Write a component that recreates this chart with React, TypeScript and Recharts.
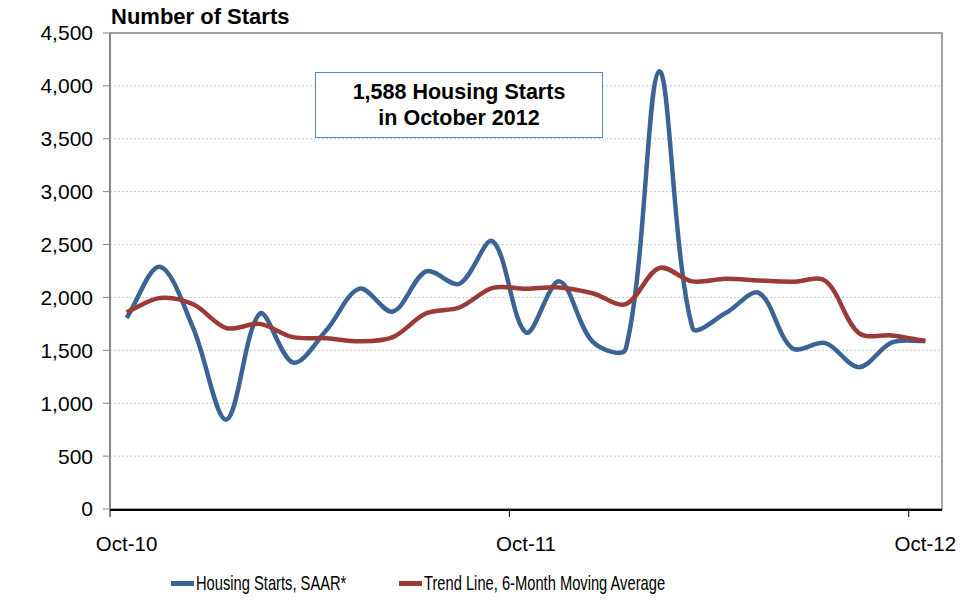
import {
  CartesianGrid,
  Legend,
  Line,
  LineChart,
  ReferenceArea,
  XAxis,
  YAxis,
} from "recharts";

const months = [
  "Oct-10", "Nov-10", "Dec-10", "Jan-11", "Feb-11", "Mar-11", "Apr-11", "May-11", "Jun-11",
  "Jul-11", "Aug-11", "Sep-11", "Oct-11", "Nov-11", "Dec-11", "Jan-12", "Feb-12", "Mar-12",
  "Apr-12", "May-12", "Jun-12", "Jul-12", "Aug-12", "Sep-12", "Oct-12",
];

const housingStarts = [
  1805, 2290, 1710, 845, 1846, 1385, 1690, 2083, 1867, 2246, 2130, 2530, 1669, 2152, 1583,
  1515, 4138, 1715, 1852, 2042, 1520, 1568, 1341, 1575, 1588,
];

const trendLine = [
  1860, 1995, 1935, 1710, 1750, 1625, 1615, 1585, 1625, 1850, 1905, 2090, 2082, 2095, 2040,
  1937, 2278, 2152, 2177, 2160, 2148, 2155, 1663, 1641, 1588,
];

const yTicks = [0, 500, 1000, 1500, 2000, 2500, 3000, 3500, 4000, 4500];
const labelTicks = [0, 12, 24];
const markTicks = [-0.5, 11.5, 23.5];

const data = months.map((month, idx) => ({
  idx,
  month,
  starts: housingStarts[idx],
  trend: trendLine[idx],
}));

const BLUE = "#3b6496";
const RED = "#9c3a37";
const FONT = "'Liberation Sans', Arial, sans-serif";

// Excel-like smoothed line: bezier through every point, tangent split by chord length
const excelSmooth = (context: any) => {
  let pts: number[][] = [];
  return {
    areaStart() {},
    areaEnd() {},
    lineStart() {
      pts = [];
    },
    point(x: number, y: number) {
      pts.push([+x, +y]);
    },
    lineEnd() {
      const n = pts.length;
      if (!n) return;
      const dist = (a: number[], b: number[]) => Math.hypot(b[0] - a[0], b[1] - a[1]) || 1e-6;
      const ctrl = pts.map((p, i) => {
        const prev = pts[Math.max(i - 1, 0)];
        const next = pts[Math.min(i + 1, n - 1)];
        const dp = i > 0 ? dist(prev, p) : 0;
        const dn = i < n - 1 ? dist(p, next) : 0;
        const tot = dp + dn || 1;
        const tx = next[0] - prev[0];
        const ty = next[1] - prev[1];
        const fin = dp / tot / 3;
        const fout = dn / tot / 3;
        return {
          inX: p[0] - tx * fin,
          inY: p[1] - ty * fin,
          outX: p[0] + tx * fout,
          outY: p[1] + ty * fout,
        };
      });
      context.moveTo(pts[0][0], pts[0][1]);
      for (let i = 0; i < n - 1; i++) {
        context.bezierCurveTo(
          ctrl[i].outX,
          ctrl[i].outY,
          ctrl[i + 1].inX,
          ctrl[i + 1].inY,
          pts[i + 1][0],
          pts[i + 1][1]
        );
      }
    },
  };
};

function LegendContent({ payload }: any) {
  return (
    <div style={{ display: "flex", alignItems: "center", fontFamily: FONT, fontSize: 21 }}>
      {(payload || []).map((p: any, i: number) => (
        <div
          key={p.value}
          style={{ display: "flex", alignItems: "center", width: i === 0 ? 228 : 300, flexShrink: 0 }}
        >
          <span
            style={{
              display: "inline-block",
              flexShrink: 0,
              width: 23,
              height: 5,
              background: p.color,
              marginRight: 2,
            }}
          />
          <span
            style={{
              display: "inline-block",
              color: "#000",
              whiteSpace: "nowrap",
              transform: "scaleX(0.7)",
              transformOrigin: "left center",
            }}
          >
            {p.value}
          </span>
        </div>
      ))}
    </div>
  );
}

export default function App() {
  return (
    <div style={{ position: "absolute", left: 0, top: 0, width: 974, height: 601, background: "#fff" }}>
      <div
        style={{
          position: "absolute",
          left: 111,
          top: 6,
          fontFamily: FONT,
          fontWeight: "bold",
          fontSize: 22,
          lineHeight: "21px",
          color: "#000",
        }}
      >
        Number of Starts
      </div>
      <LineChart
        width={974}
        height={601}
        data={data}
        margin={{ top: 33, right: 32, left: 10, bottom: 90 }}
      >
        <CartesianGrid vertical={false} stroke="#c8c8c8" strokeDasharray="2 2" />
        <ReferenceArea
          x1={-0.5}
          x2={24.5}
          y1={0}
          y2={4500}
          fill="none"
          stroke="#868686"
          strokeWidth={1.5}
        />
        <XAxis
          dataKey="idx"
          type="number"
          domain={[-0.5, 24.5]}
          ticks={labelTicks}
          tickFormatter={(v) => months[v]}
          height={1}
          axisLine={false}
          tickLine={false}
          tickSize={0}
          tickMargin={27}
          tick={{ fill: "#000", fontSize: 20.5, fontFamily: FONT }}
        />
        <XAxis
          xAxisId="marks"
          dataKey="idx"
          type="number"
          domain={[-0.5, 24.5]}
          ticks={markTicks}
          tickFormatter={() => ""}
          height={1}
          tickSize={7}
          stroke="#000"
          axisLine={{ stroke: "#000", strokeWidth: 2 }}
          tickLine={{ stroke: "#000", strokeWidth: 1 }}
        />
        <YAxis
          width={100}
          domain={[0, 4500]}
          ticks={yTicks}
          tickFormatter={(v) => v.toLocaleString("en-US")}
          tick={{ fill: "#000", fontSize: 21, fontFamily: FONT }}
          axisLine={{ stroke: "#868686", strokeWidth: 2 }}
          tickLine={{ stroke: "#868686" }}
          tickSize={7}
          tickMargin={10}
        />
        <Legend
          verticalAlign="middle"
          align="center"
          layout="horizontal"
          wrapperStyle={{ left: 171, top: 571, width: 700 }}
          content={<LegendContent />}
        />
        <Line
          dataKey="starts"
          name="Housing Starts, SAAR*"
          type={excelSmooth as any}
          stroke={BLUE}
          strokeWidth={4.5}
          dot={false}
          activeDot={false}
          isAnimationActive={false}
        />
        <Line
          dataKey="trend"
          name="Trend Line, 6-Month Moving Average"
          type={excelSmooth as any}
          stroke={RED}
          strokeWidth={4.5}
          dot={false}
          activeDot={false}
          isAnimationActive={false}
        />
      </LineChart>
      <div
        style={{
          position: "absolute",
          left: 315,
          top: 72,
          width: 288,
          height: 66,
          boxSizing: "border-box",
          border: "1.5px solid #5b86c0",
          background: "#fff",
          display: "flex",
          flexDirection: "column",
          alignItems: "center",
          justifyContent: "center",
          fontFamily: FONT,
          fontWeight: "bold",
          fontSize: 21.5,
          lineHeight: "26px",
          color: "#000",
        }}
      >
        <div>1,588 Housing Starts</div>
        <div>in October 2012</div>
      </div>
    </div>
  );
}
